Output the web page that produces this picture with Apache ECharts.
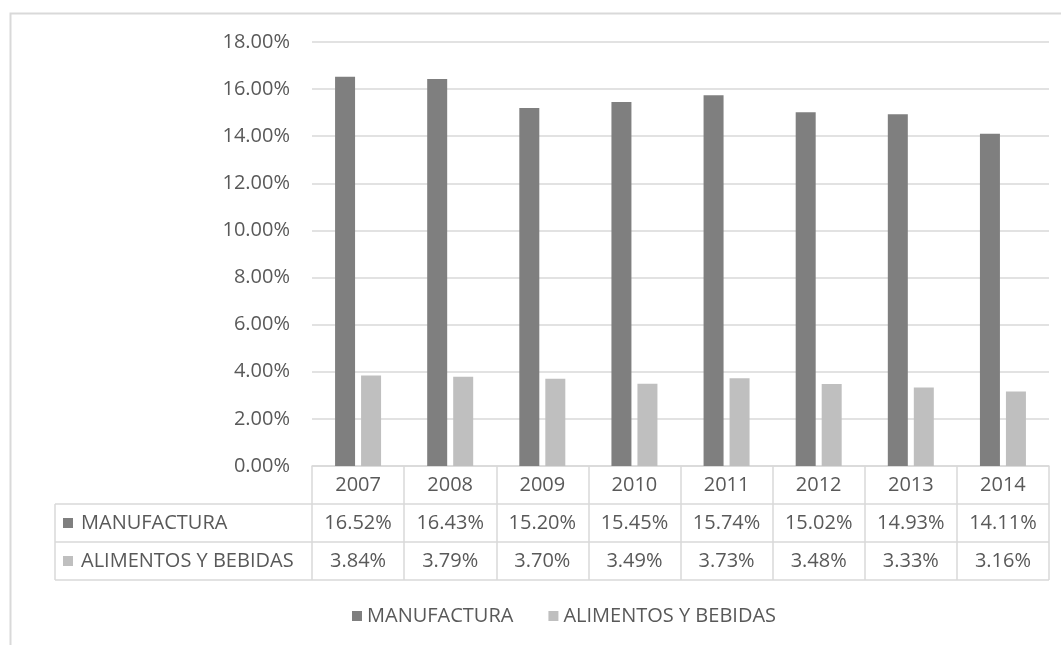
<!DOCTYPE html>
<html>
<head>
<meta charset="utf-8">
<script src="https://cdn.jsdelivr.net/npm/echarts@6/dist/echarts.min.js"></script>
<style>
html,body{margin:0;padding:0;background:#fff;}
#c{width:1061px;height:645px;}
</style>
</head>
<body>
<div id="c"></div>
<script>
const years = ['2007','2008','2009','2010','2011','2012','2013','2014'];
const manufactura = [16.52,16.43,15.20,15.45,15.74,15.02,14.93,14.11];
const alimentos = [3.84,3.79,3.70,3.49,3.73,3.48,3.33,3.16];
const seriesNames = ['MANUFACTURA','ALIMENTOS Y BEBIDAS'];
const yTicks = {min:0, max:18, interval:2};

const colors = ['#7f7f7f','#bfbfbf'];
const txt = '#595959';
const lineC = '#d9d9d9';
const FONT = '"Open Sans", "Noto Sans", sans-serif';
const FS = 20;
const ROW = 38;

const gridL = 312, gridR = 12, gridT = 42, gridB = 179;

const chart = echarts.init(document.getElementById('c'));

function fmt(v){ return v.toFixed(2) + '%'; }

chart.setOption({
  animation:false,
  backgroundColor:'#fff',
  textStyle:{fontFamily:FONT},
  grid:{left:gridL, right:gridR, top:gridT, bottom:gridB},
  legend:{
    left:347, top:601,
    itemWidth:10, itemHeight:10, itemGap:35,
    icon:'rect',
    textStyle:{color:txt, fontSize:FS, fontFamily:FONT},
    data:seriesNames
  },
  xAxis:{
    type:'category',
    data:years,
    boundaryGap:true,
    axisLine:{show:true, lineStyle:{color:lineC, width:1.5}},
    axisTick:{show:true, length:ROW*3, lineStyle:{color:lineC, width:1.5}},
    axisLabel:{
      margin:0,
      interval:0,
      color:txt,
      fontSize:FS,
      fontFamily:FONT,
      lineHeight:ROW,
      formatter:function(v, i){
        return v + '\n' + fmt(manufactura[i]) + '\n' + fmt(alimentos[i]);
      }
    }
  },
  yAxis:{
    type:'value',
    min:yTicks.min, max:yTicks.max, interval:yTicks.interval,
    axisLine:{show:false},
    axisTick:{show:false},
    axisLabel:{color:txt, fontSize:FS, fontFamily:FONT, margin:22, formatter:function(v){return fmt(v);}},
    splitLine:{lineStyle:{color:lineC, width:1.5}}
  },
  series:[
    {name:seriesNames[0], type:'bar', data:manufactura, barWidth:20, barGap:'30%', itemStyle:{color:colors[0]}},
    {name:seriesNames[1], type:'bar', data:alimentos, barWidth:20, itemStyle:{color:colors[1]}}
  ]
});

// Build the data table frame from axis positions
const y0 = chart.convertToPixel({yAxisIndex:0}, 0);
const xEnd = 1061 - gridR;
const tableL = 55;
const els = [];
els.push({type:'rect', shape:{x:10.5, y:13.5, width:1200, height:800}, style:{fill:null, stroke:lineC, lineWidth:2}, silent:true, z:-1});
for (let r = 1; r <= 3; r++) {
  const yy = y0 + r*ROW;
  els.push({type:'line', shape:{x1:tableL, y1:yy, x2:xEnd, y2:yy}, style:{stroke:lineC, lineWidth:1.5}});
}
els.push({type:'line', shape:{x1:tableL, y1:y0+ROW, x2:tableL, y2:y0+3*ROW}, style:{stroke:lineC, lineWidth:1.5}});
seriesNames.forEach(function(n, k){
  const cy = y0 + ROW*(k+1) + ROW/2;
  els.push({type:'rect', shape:{x:63, y:cy-5, width:10, height:10}, style:{fill:colors[k]}});
  els.push({type:'text', x:81, y:cy, style:{text:n, fill:txt, font:FS+'px '+FONT, textVerticalAlign:'middle', textAlign:'left'}});
});
chart.setOption({graphic:{elements:els}});
</script>
</body>
</html>
